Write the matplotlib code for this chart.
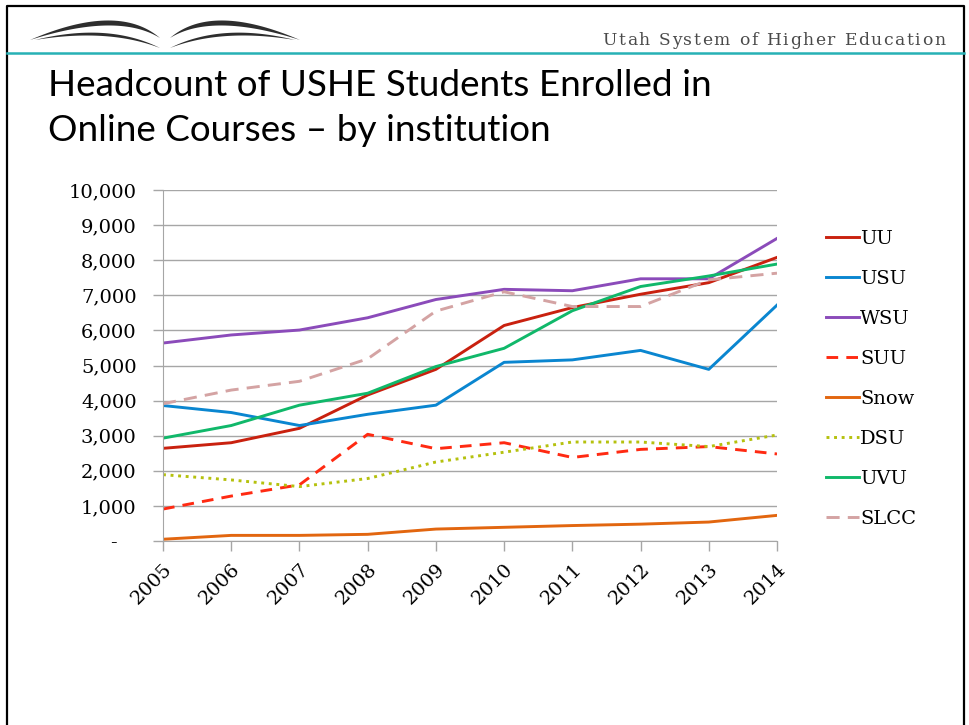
'''
Headcount of USHE students enrolled in online courses, by institution
'''

# Imports
import numpy as np
import matplotlib
matplotlib.use('Agg')
import matplotlib.pyplot as plt
from matplotlib.ticker import FuncFormatter

# Data
years = [2005, 2006, 2007, 2008, 2009, 2010, 2011, 2012, 2013, 2014]
uu = [2640, 2800, 3210, 4160, 4890, 6140, 6650, 7030, 7360, 8080]
usu = [3860, 3660, 3290, 3610, 3870, 5090, 5160, 5430, 4890, 6720]
wsu = [5640, 5870, 6010, 6360, 6880, 7170, 7130, 7470, 7470, 8620]
suu = [910, 1280, 1600, 3040, 2630, 2800, 2380, 2610, 2690, 2480]
snow = [50, 160, 160, 190, 340, 390, 440, 480, 540, 730]
dsu = [1890, 1740, 1550, 1780, 2250, 2530, 2820, 2820, 2690, 3020]
uvu = [2930, 3290, 3870, 4210, 4970, 5490, 6560, 7250, 7550, 7890]
slcc = [3910, 4300, 4550, 5190, 6550, 7100, 6680, 6680, 7440, 7630]

series = [
    ('UU', uu, '#C9210F', '-'),
    ('USU', usu, '#0A86D0', '-'),
    ('WSU', wsu, '#8B4BBA', '-'),
    ('SUU', suu, '#FF2A12', (0, (4, 2.8))),
    ('Snow', snow, '#E2660F', '-'),
    ('DSU', dsu, '#B5C10E', (0, (1, 1.6))),
    ('UVU', uvu, '#10B86A', '-'),
    ('SLCC', slcc, '#D4A3A3', (0, (4.5, 2.8))),
]

W, H = 969, 725
serif = 'DejaVu Serif'

# Figure
fig = plt.figure(figsize=(W / 100, H / 100), dpi=100)
renderer = fig.canvas.get_renderer()

# Slide decoration (pixel coords)
deco = fig.add_axes([0, 0, 1, 1], zorder=-1)
deco.set_xlim(0, W)
deco.set_ylim(H, 0)
deco.axis('off')
deco.plot([7, 7, 964, 964], [H, 6, 6, H], color='black', lw=1.6)
deco.plot([7, 964], [52.5, 52.5], color='#27B1B5', lw=1.8)


def bez(p0, c, p2, n=40):
    t = np.linspace(0, 1, n)[:, None]
    return (1 - t) ** 2 * np.array(p0) + 2 * (1 - t) * t * np.array(c) + t ** 2 * np.array(p2)


def crescent(p0, c_out, c_in, p2):
    a = bez(p0, c_out, p2)
    b = bez(p0, c_in, p2)[::-1]
    pts = np.vstack([a, b])
    deco.fill(pts[:, 0], pts[:, 1], color='#2E2E2E', lw=0)


# book logo: two wings, two arcs each
for m in (1, -1):
    fx = (lambda x: x) if m == 1 else (lambda x: 330 - x)
    crescent((fx(30), 40), (fx(118), 2), (fx(118), 12), (fx(160), 38))
    crescent((fx(35), 40), (fx(108), 22), (fx(108), 28), (fx(160), 48))


# letter-spaced header text, right aligned at x_right
def spaced_text(s, x_right, y, spacing, **kw):
    widths = []
    for ch in s:
        t = deco.text(0, 0, ch if ch != ' ' else 'a', **kw)
        w = t.get_window_extent(renderer).width
        t.remove()
        if ch == ' ':
            w *= 0.55
        widths.append(w)
    total = sum(widths) + spacing * (len(s) - 1)
    x = x_right - total
    for ch, w in zip(s, widths):
        deco.text(x, y, ch, ha='left', va='baseline', **kw)
        x += w + spacing


spaced_text('Utah System of Higher Education', 945, 45, 1.6,
            family=serif, fontsize=12.3, color='#4A4A4A')

fig.text(48 / W, 1 - 69 / H, 'Headcount of USHE Students Enrolled in\nOnline Courses \u2013 by institution',
         family='Lato', fontsize=26.6, color='black', ha='left', va='top',
         linespacing=1.45)

# Chart
ax = fig.add_axes([163 / W, 1 - 541 / H, (777 - 163) / W, (541 - 190) / H])
for name, vals, col, ls in series:
    ax.plot(years, vals, color=col, lw=2.1, linestyle=ls, label=name)

ax.set_xlim(years[0], years[-1])
ax.set_ylim(0, 10000)
ax.set_yticks(np.arange(0, 10001, 1000))
ax.set_xticks(years)
ax.yaxis.set_major_formatter(FuncFormatter(lambda v, p: '-   ' if v == 0 else f'{int(v):,}'))
ax.grid(axis='y', color='#A6A6A6', lw=1.0)
ax.set_axisbelow(True)
for s in ('top', 'right'):
    ax.spines[s].set_visible(False)
for s in ('left', 'bottom'):
    ax.spines[s].set_color('#A6A6A6')
ax.tick_params(axis='both', direction='out', length=7, color='#A6A6A6', width=1.0)
ax.tick_params(axis='y', pad=12)
ax.tick_params(axis='x', pad=7)
for lab in ax.get_yticklabels():
    lab.set_family(serif)
    lab.set_fontsize(14)
for lab in ax.get_xticklabels():
    lab.set_family(serif)
    lab.set_fontsize(14)
    lab.set_rotation(45)
    lab.set_ha('right')
    lab.set_va('top')
    lab.set_rotation_mode('anchor')

leg = fig.legend(loc='upper left', bbox_to_anchor=(816 / W, 1 - 220 / H), frameon=False,
                 prop={'family': serif, 'size': 14}, handlelength=1.7, handletextpad=0.08,
                 labelspacing=1.13, borderpad=0)

fig.savefig('out.png', dpi=100, facecolor='white')
plt.close(fig)
